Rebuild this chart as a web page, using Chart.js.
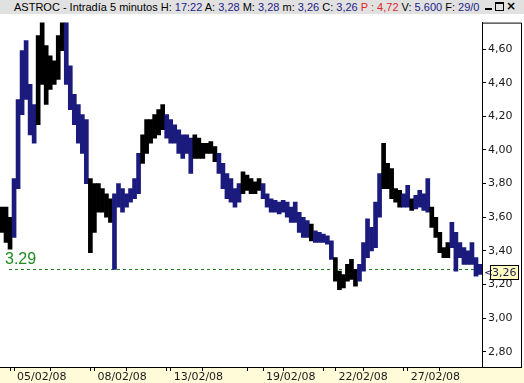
<!DOCTYPE html>
<html>
<head>
<meta charset="utf-8">
<script src="https://cdn.jsdelivr.net/npm/chart.js@4.4.0/dist/chart.umd.min.js"></script>
<style>
body { margin: 0; width: 524px; height: 383px; overflow: hidden; background: #fff; }
.titlebar { position: relative; height: 14px; background: #e1e1e1; font: 11px "Liberation Sans", Arial, sans-serif; line-height: 14px; white-space: nowrap; color: #000; }
.titlebar .txt { position: absolute; left: 14px; top: 0; }
.titlebar .v { color: #1c1c86; }
.titlebar .p { color: #e02828; }
.titlebar .btns { position: absolute; left: 485px; top: 2px; height: 10px; }
.btns span { position: absolute; top: 0; }
.btn-min { left: 0; width: 7px; height: 8px; border-bottom: 2px solid #000; box-sizing: border-box; }
.btn-max { left: 10px; width: 9px; height: 9px; border: 1px solid #000; border-top-width: 2px; box-sizing: border-box; }
.btn-close { left: 21px; top: -3px !important; font: bold 12px "DejaVu Sans", sans-serif; }
.wrap { width: 524px; height: 369px; }
</style>
</head>
<body>
<div class="titlebar">
  <span class="txt">ASTROC - Intradía 5 minutos H: <span class="v">17:22</span> A: <span class="v">3,28</span> M: <span class="v">3,28</span> m: <span class="v">3,26</span> C: <span class="v">3,26</span> <span class="p">P : 4,72</span> V: <span class="v">5.600</span> F: <span class="v">29/0</span></span>
  <span class="btns"><span class="btn-min"></span><span class="btn-max"></span><span class="btn-close">×</span></span>
</div>
<div class="wrap"><canvas id="chart" width="524" height="369"></canvas></div>

<script>
// 5-minute bars (high / low of each bar)
const highs = [3.66, 3.66, 3.60, 3.83, 4.30, 4.59, 4.65, 4.39, 4.27, 4.68,
  4.77, 4.62, 4.56, 4.53, 4.68, 4.77, 4.77, 4.50, 4.33, 4.27,
  4.21, 4.18, 3.83, 3.80, 3.80, 3.77, 3.74, 3.71, 3.74, 3.80,
  3.77, 3.74, 3.77, 3.83, 3.98, 4.09, 4.18, 4.18, 4.21, 4.24,
  4.27, 4.21, 4.18, 4.15, 4.12, 4.09, 4.09, 4.07, 4.09, 4.07,
  4.04, 4.04, 4.05, 4.02, 3.98, 3.92, 3.86, 3.83, 3.77, 3.80,
  3.87, 3.85, 3.83, 3.81, 3.83, 3.80, 3.74, 3.71, 3.70, 3.69,
  3.70, 3.69, 3.66, 3.69, 3.63, 3.60, 3.58, 3.56, 3.52, 3.51,
  3.50, 3.49, 3.46, 3.36, 3.28, 3.26, 3.32, 3.35, 3.29, 3.32,
  3.45, 3.59, 3.54, 3.69, 3.86, 4.04, 3.92, 3.89, 3.77, 3.76,
  3.74, 3.79, 3.71, 3.73, 3.76, 3.74, 3.83, 3.66, 3.60, 3.51,
  3.42, 3.45, 3.57, 3.51, 3.45, 3.42, 3.40, 3.45, 3.36, 3.32];
const lows = [3.51, 3.45, 3.41, 3.48, 3.77, 4.21, 4.30, 4.09, 4.04, 4.15,
  4.39, 4.27, 4.36, 4.39, 4.42, 4.59, 4.39, 4.24, 4.15, 4.04,
  3.98, 3.80, 3.39, 3.51, 3.63, 3.63, 3.60, 3.57, 3.29, 3.66,
  3.63, 3.66, 3.69, 3.71, 3.74, 3.92, 3.98, 4.04, 4.07, 4.09,
  4.12, 4.07, 4.04, 4.04, 3.98, 3.95, 3.98, 3.86, 3.95, 3.95,
  3.95, 3.98, 3.98, 3.93, 3.86, 3.77, 3.71, 3.69, 3.66, 3.69,
  3.74, 3.76, 3.74, 3.74, 3.76, 3.71, 3.66, 3.63, 3.63, 3.62,
  3.63, 3.60, 3.57, 3.57, 3.51, 3.48, 3.48, 3.46, 3.45, 3.45,
  3.45, 3.44, 3.35, 3.22, 3.17, 3.18, 3.22, 3.23, 3.19, 3.22,
  3.28, 3.36, 3.40, 3.42, 3.60, 3.77, 3.77, 3.71, 3.69, 3.66,
  3.66, 3.66, 3.64, 3.65, 3.66, 3.64, 3.63, 3.54, 3.48, 3.39,
  3.36, 3.36, 3.42, 3.28, 3.36, 3.32, 3.32, 3.32, 3.25, 3.26];
// segment type of each bar: 'a' = black run, 'b' = navy run
const runType = 'aaabbbbbbaaaaaaabbbbbbaaaaaabbbbbbbaaaaaabbbbbbbaaaaaabbbbbbaaaaabbbbbbbbbbbbabbbbbaaaaaabbbbbbaaaaabbabbbbaaaaabbbbbbbb';

const dayLabels = ['05/02/08', '08/02/08', '13/02/08', '19/02/08', '22/02/08', '27/02/08'];
const dayStart = [3, 23, 42, 65, 83, 101];
const tickMarks = [2, 3, 12, 22, 23, 31, 41, 42, 50, 61, 65, 70, 80, 83, 90, 100, 101, 109];
const yTicks = [2.8, 3.0, 3.2, 3.4, 3.6, 3.8, 4.0, 4.2, 4.4, 4.6];
const refLevel = 3.29;
const lastPrice = 3.26;

const fmt = v => v.toFixed(2).replace('.', ',');

const decor = {
  id: 'decor',
  beforeDraw(chart) {
    const { ctx, width, height } = chart;
    const xs = chart.scales.x;
    ctx.save();
    ctx.fillStyle = '#fff';
    ctx.fillRect(0, 0, width, height);
    ctx.fillStyle = '#fffbd9';
    ctx.fillRect(0, xs.top, width, height - xs.top);
    ctx.restore();
  },
  beforeDatasetsDraw(chart) {
    const { ctx, chartArea } = chart;
    const y = Math.round(chart.scales.y.getPixelForValue(refLevel)) + 0.5;
    ctx.save();
    ctx.strokeStyle = '#1f7f1f';
    ctx.lineWidth = 1;
    ctx.setLineDash([3, 3]);
    ctx.beginPath();
    ctx.moveTo(chartArea.left + 9, y);
    ctx.lineTo(chartArea.right, y);
    ctx.stroke();
    ctx.setLineDash([]);
    ctx.fillStyle = '#1f8a1f';
    ctx.font = '16px "Liberation Sans", Arial, sans-serif';
    ctx.textBaseline = 'alphabetic';
    ctx.fillText(refLevel.toFixed(2), chartArea.left + 5, y - 5.5);
    ctx.restore();
  },
  afterDraw(chart) {
    const { ctx, chartArea } = chart;
    const xs = chart.scales.x;
    ctx.save();
    ctx.strokeStyle = '#000';
    ctx.lineWidth = 1;
    ctx.beginPath();
    ctx.moveTo(chartArea.right, chartArea.top + 0.5);
    ctx.lineTo(521.5, chartArea.top + 0.5);
    ctx.lineTo(521.5, xs.top + 0.5);
    ctx.moveTo(0, xs.top + 0.5);
    ctx.lineTo(522, xs.top + 0.5);
    ctx.stroke();
    // last price marker
    const py = Math.round(chart.scales.y.getPixelForValue(lastPrice));
    ctx.fillStyle = '#ffffc2';
    ctx.fillRect(490, py - 9, 29, 15);
    ctx.strokeRect(490.5, py - 8.5, 28, 14);
    ctx.fillStyle = '#1a1a50';
    ctx.font = '11px "DejaVu Sans", sans-serif';
    ctx.textBaseline = 'middle';
    ctx.fillText('<', 484, py - 1);
    ctx.fillText(fmt(lastPrice), 492, py - 1);
    ctx.restore();
  }
};

new Chart(document.getElementById('chart'), {
  type: 'bar',
  data: {
    labels: highs.map((_, i) => i),
    datasets: [{
      data: highs.map((h, i) => [lows[i], h]),
      backgroundColor: highs.map((_, i) => runType[i] === 'a' ? '#000000' : '#1b1b7e'),
      borderWidth: 0,
      borderSkipped: false,
      barPercentage: 1,
      categoryPercentage: 1
    }]
  },
  options: {
    responsive: false,
    animation: false,
    layout: { padding: { top: 2, left: 0, right: 0, bottom: 0 } },
    plugins: { legend: { display: false }, tooltip: { enabled: false } },
    scales: {
      x: {
        offset: true,
        border: { display: true, color: '#000' },
        grid: {
          offset: false,
          drawOnChartArea: false,
          tickLength: 4,
          tickColor: c => tickMarks.includes(c.index) ? '#000' : 'rgba(0,0,0,0)'
        },
        ticks: {
          autoSkip: false,
          maxRotation: 0,
          minRotation: 0,
          align: 'start',
          labelOffset: 3,
          padding: 0,
          color: '#1a1a1a',
          font: { family: '"DejaVu Sans", sans-serif', size: 11 },
          callback: (v, i) => {
            const k = dayStart.indexOf(i);
            return k >= 0 ? dayLabels[k] : '';
          }
        },
        afterFit: s => { s.height = 16; }
      },
      y: {
        position: 'right',
        min: 2.71,
        max: 4.757,
        border: { display: true, color: '#000' },
        grid: { drawOnChartArea: false, tickLength: 4, tickColor: '#000' },
        afterBuildTicks: s => { s.ticks = yTicks.map(v => ({ value: v })); },
        ticks: {
          padding: 2,
          color: '#1a1a1a',
          font: { family: '"DejaVu Sans", sans-serif', size: 11 },
          callback: v => fmt(v)
        },
        afterFit: s => { s.width = 42; }
      }
    }
  },
  plugins: [decor]
});
</script>
</body>
</html>
